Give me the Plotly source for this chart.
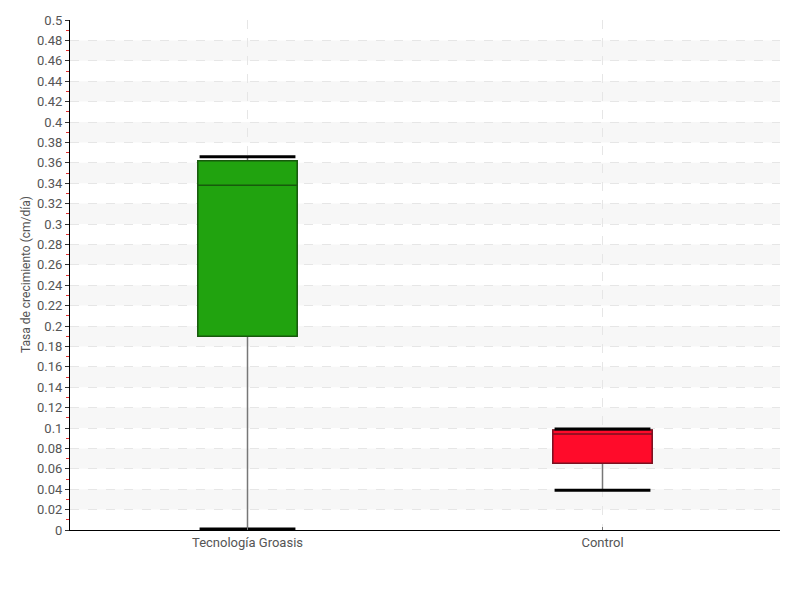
import plotly.graph_objects as go

categories = ["Tecnología Groasis", "Control"]
lower_whisker = [0.001, 0.039]
q1_values = [0.190, 0.0655]
median_values = [0.338, 0.094]
q3_values = [0.362, 0.098]
upper_whisker = [0.366, 0.099]
fill_colors = ["#21a30f", "#ff0b2a"]
edge_colors = ["#175a0c", "#7a1020"]
y_title = "Tasa de crecimiento (cm/día)"

FONT = "Roboto, sans-serif"
BOX_W = 0.28
CAP_W = 0.27

fig = go.Figure()
xs = list(range(len(categories)))

# background bands
shapes = []
k = 1
while k * 0.02 < 0.5:
    shapes.append(dict(type="rect", xref="paper", yref="y", x0=0, x1=1,
                       y0=k * 0.02, y1=(k + 1) * 0.02,
                       fillcolor="#f7f7f7", line=dict(width=0), layer="below"))
    k += 2

for i, c in enumerate(categories):
    # stems
    fig.add_trace(go.Box(x=[xs[i]], q1=[q1_values[i]], median=[median_values[i]],
                         q3=[q3_values[i]], lowerfence=[lower_whisker[i]],
                         upperfence=[upper_whisker[i]], width=BOX_W,
                         whiskerwidth=0, fillcolor="rgba(0,0,0,0)",
                         line=dict(color="#777777", width=1.5),
                         showlegend=False, hoverinfo="skip"))
    # box body
    fig.add_trace(go.Box(x=[xs[i]], q1=[q1_values[i]], median=[median_values[i]],
                         q3=[q3_values[i]], lowerfence=[q1_values[i]],
                         upperfence=[q3_values[i]], width=BOX_W,
                         whiskerwidth=0, fillcolor=fill_colors[i],
                         line=dict(color=edge_colors[i], width=1.5),
                         showlegend=False, name=c))
    # caps
    for v in (lower_whisker[i], upper_whisker[i]):
        fig.add_trace(go.Scatter(x=[xs[i] - CAP_W / 2, xs[i] + CAP_W / 2], y=[v, v],
                                 mode="lines", line=dict(color="black", width=3),
                                 showlegend=False, hoverinfo="skip"))

fig.update_layout(
    width=800, height=600,
    margin=dict(l=62, r=28, t=12, b=78),
    plot_bgcolor="white", paper_bgcolor="white",
    font=dict(family=FONT, size=13, color="#555555"),
    shapes=shapes,
    showlegend=False,
    annotations=[dict(text=y_title, xref="paper", yref="paper", x=0, y=0.5,
                      xanchor="center", yanchor="middle",
                      xshift=-44, textangle=-90, showarrow=False,
                      font=dict(family=FONT, size=12, color="#555555"))],
)
fig.update_xaxes(
    range=[-0.5, 1.5], tickmode="array", tickvals=xs, ticktext=categories,
    showline=True, linecolor="black", linewidth=1,
    showgrid=True, gridcolor="#e6e6e6", griddash="dash",
    ticks="inside", ticklen=3, tickcolor="#777777", zeroline=False,
    tickfont=dict(family=FONT, size=13, color="#555555"), automargin=False,
)
fig.update_yaxes(
    range=[0, 0.5], dtick=0.02, tick0=0,
    showline=True, linecolor="black", linewidth=1,
    showgrid=True, gridcolor="#e6e6e6", griddash="dash",
    ticks="outside", ticklen=4, tickcolor="#333333", zeroline=False,
    minor=dict(dtick=0.01, ticks="outside", ticklen=3, tickcolor="#e03030", showgrid=False),
    tickfont=dict(family=FONT, size=13, color="#555555"), automargin=False,
)

fig.write_html("out.html")
